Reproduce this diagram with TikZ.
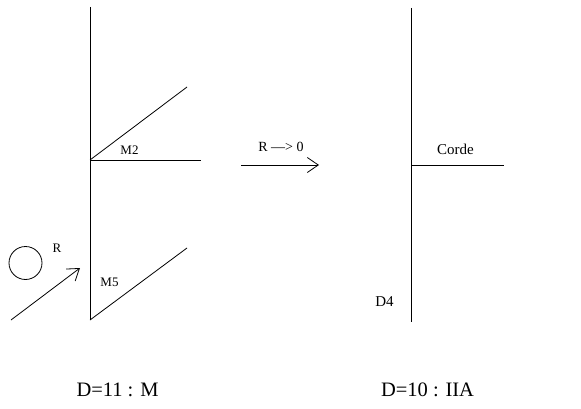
\documentclass[tikz,border=0pt]{standalone}
\usepackage{fontspec}
\setmainfont{Liberation Serif}
\usepackage{tikz}
\usetikzlibrary{arrows.meta}

\begin{document}
\begin{tikzpicture}[x=1pt,y=-1pt,line width=0.8pt,
		>={Straight Barb[length=11pt,width=15pt]},
		lbl/.style={anchor=base,inner sep=0pt,font=\fontsize{13}{13}\selectfont},
		lblbig/.style={anchor=base,inner sep=0pt,font=\fontsize{15}{15}\selectfont},
		title/.style={anchor=base,inner sep=0pt,font=\fontsize{20.5}{20.5}\selectfont}]
		\useasboundingbox (0,0) rectangle (581,409);
		% left : M theory
		\coordinate (Ltop) at (90,7);
		\coordinate (Lmid) at (90,160);
		\coordinate (Lbot) at (90,320);
		\draw (Ltop) -- (Lbot);
		\draw (Lmid) -- (201,160);
		\draw (Lmid) -- (187,87);
		\draw (Lbot) -- (187,248);
		\node [lbl] (m2) at (129.5,155) {M2};
		\node [lbl] (m5) at (109.5,286) {M5};
		\node [draw,circle,minimum size=33pt,inner sep=0pt] (circ) at (25.5,263) {};
		\node [lbl] (r) at (57,252) {R};
		\coordinate (a1) at (11,320);
		\coordinate (a2) at (80,268);
		\draw [->] (a1) -- (a2);
		% limit
		\coordinate (b1) at (241,165);
		\coordinate (b2) at (319,165);
		\draw [->] (b1) -- (b2);
		\node [lbl,font=\fontsize{14}{14}\selectfont] (lim) at (281,152) {R —> 0};
		% right : IIA
		\coordinate (Rtop) at (411,8);
		\coordinate (Rmid) at (411,165);
		\coordinate (Rbot) at (411,322);
		\draw (Rtop) -- (Rbot);
		\draw (Rmid) -- (504,165);
		\node [lblbig] (corde) at (455.5,154) {Corde};
		\node [lblbig] (d4) at (384.5,306) {D4};
		% titles
		\node [title] (tM) at (117.5,396) {D=11 : M};
		\node [title] (tIIA) at (427.5,396) {D=10 : IIA};
\end{tikzpicture}
\end{document}
